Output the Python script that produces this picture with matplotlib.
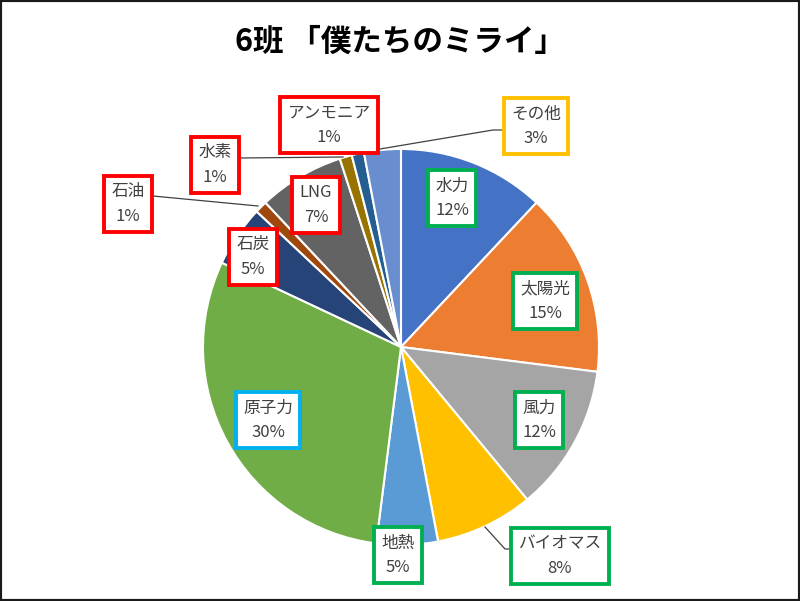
import matplotlib
matplotlib.use("Agg")
import matplotlib.pyplot as plt
from matplotlib.patches import Rectangle

plt.rcParams['font.family'] = ['Noto Sans CJK JP', 'DejaVu Sans']

# ---- data ----
categories = ["水力", "太陽光", "風力", "バイオマス", "地熱", "原子力",
              "石炭", "石油", "LNG", "水素", "アンモニア", "その他"]
values = [12, 15, 12, 8, 5, 30, 5, 1, 7, 1, 1, 3]
slice_colors = ["#4472C4", "#ED7D31", "#A5A5A5", "#FFC000", "#5B9BD5", "#70AD47",
                "#264478", "#9E480E", "#636363", "#997300", "#255E91", "#698ED0"]
box_colors = ["#00B050", "#00B050", "#00B050", "#00B050", "#00B050", "#00B0F0",
              "#FF0000", "#FF0000", "#FF0000", "#FF0000", "#FF0000", "#FFC000"]
title = "6班 「僕たちのミライ」"

W, H = 800, 601
fig = plt.figure(figsize=(8, 6.01), dpi=100)
ax = fig.add_axes([0, 0, 1, 1])


def py(y):
    return H - y


# pie
cx, cy, r = 401, 347, 198
ax.pie(values, colors=slice_colors, startangle=90, counterclock=False,
       center=(cx, py(cy)), radius=r, frame=True,
       wedgeprops=dict(edgecolor='white', linewidth=1.5))
ax.set_xlim(0, W)
ax.set_ylim(0, H)
ax.set_aspect('equal')
ax.axis('off')

# label positions (pixel centres of label boxes)
label_pos = {
    "水力": (452, 198),
    "太陽光": (545, 301),
    "風力": (539, 420),
    "バイオマス": (560, 556),
    "地熱": (398, 555),
    "原子力": (268, 420),
    "石炭": (253, 257),
    "石油": (128, 204),
    "LNG": (316, 205),
    "水素": (215, 165),
    "アンモニア": (329, 125),
    "その他": (536, 126),
}

# leader lines (pixel coords)
leaders = [
    [(380, 149), (493, 130), (502, 130)],        # その他
    [(343, 157), (240, 158)],                    # 水素
    [(258, 206), (153, 196)],                    # 石油
    [(485, 527), (505, 549), (512, 549)],        # バイオマス
]
for pts in leaders:
    xs = [p[0] for p in pts]
    ys = [py(p[1]) for p in pts]
    ax.plot(xs, ys, color='#404040', lw=0.9, zorder=3)

for cat, val, bc in zip(categories, values, box_colors):
    x, y = label_pos[cat]
    ax.text(x, py(y), f"{cat}\n{val}%", ha='center', va='center',
            fontsize=12, color='#404040', linespacing=1.55, zorder=5,
            bbox=dict(boxstyle='square,pad=0.45', facecolor='white',
                      edgecolor=bc, linewidth=2.8))

fig.text(0.5, 1 - 42 / H, title, ha='center', va='center',
         fontsize=22, fontweight='bold', color='black')

# outer border
fig.patches.append(Rectangle((0, 0), 1, 1, transform=fig.transFigure,
                             fill=False, edgecolor='#1a1a1a', linewidth=3))

fig.savefig("out.png", dpi=100)
